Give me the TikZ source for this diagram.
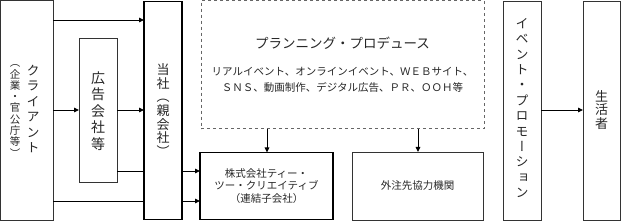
\documentclass[tikz,border=0pt]{standalone}
\usepackage{fontspec}
\newfontfamily\cjk{Noto Sans CJK JP}
\newfontfamily\cjkv[RawFeature=+vert]{Noto Sans CJK JP}
\usetikzlibrary{arrows.meta}
\begin{document}
\begin{tikzpicture}[x=1pt,y=-1pt,
  thinbox/.style={draw=black!80,line width=0.7pt,inner sep=0pt,outer sep=0pt},
  thickbox/.style={draw=black,line width=1.4pt,inner sep=0pt,outer sep=0pt},
  dashbox/.style={draw=black!60,dashed,line width=0.7pt,inner sep=0pt,outer sep=0pt},
  vtext/.style={font=\cjkv\fontsize{13}{15.5}\selectfont,align=center,inner sep=0pt,text=black!85},
  htext/.style={font=\cjk\fontsize{10.5}{12.5}\selectfont,align=center,inner sep=0pt,text=black!85},
  arr/.style={line width=0.9pt,-{Triangle[length=5pt,width=4.5pt]}},
  ln/.style={line width=0.9pt}]
\useasboundingbox (0,0) rectangle (621,221);
% boxes
\node[thinbox,minimum width=52.5pt,minimum height=219.5pt] (client) at (26.75,110.5) {};
\node[thinbox,minimum width=38pt,minimum height=144pt] (ad) at (98,110) {};
\node[thickbox,minimum width=38pt,minimum height=218pt] (tosha) at (163,110.5) {};
\node[dashbox,minimum width=283pt,minimum height=128pt] (plan) at (342.5,64.75) {};
\node[thickbox,minimum width=133pt,minimum height=67pt] (tc) at (266.5,186) {};
\node[thinbox,minimum width=131pt,minimum height=68pt] (gai) at (417.5,186) {};
\node[thinbox,minimum width=38pt,minimum height=219pt] (event) at (522,110.5) {};
\node[thinbox,minimum width=37pt,minimum height=219pt] (sei) at (601.5,110.5) {};
% texts
\node[vtext] (tclient) at (33,109) {ク\\ラ\\イ\\ア\\ン\\ト};
\node[vtext,font=\cjkv\fontsize{10.5}{11.3}\selectfont] (tclient2) at (15,111) {（\\企\\業\\・\\官\\公\\庁\\等\\）};
\node[vtext,font=\cjkv\fontsize{14}{16.4}\selectfont] (tad) at (98,111) {広\\告\\会\\社\\等};
\node[vtext,font=\cjkv\fontsize{13}{13.6}\selectfont] (ttosha) at (163,110) {当\\社\\（\\親\\会\\社\\）};
\node[vtext,font=\cjkv\fontsize{13}{15.4}\selectfont] (tevent) at (522,108) {イ\\ベ\\ン\\ト\\・\\プ\\ロ\\モ\\ー\\シ\\ョ\\ン};
\node[vtext,font=\cjkv\fontsize{13}{13.5}\selectfont] (tsei) at (601.5,110) {生\\活\\者};
\node[htext,font=\cjk\fontsize{13.5}{15}\selectfont] (tplan) at (342.5,43) {プランニング・プロデュース};
\node[htext,font=\cjk\fontsize{10.5}{16}\selectfont] (tplan2) at (342.5,80) {リアルイベント、オンラインイベント、ＷＥＢサイト、\\ＳＮＳ、動画制作、デジタル広告、ＰＲ、ＯＯＨ等};
\node[htext] (ttc) at (266.5,186) {株式会社ティー・\\ツー・クリエイティブ\\（連結子会社）};
\node[htext] (tgai) at (417.5,186) {外注先協力機関};
% connectors
\draw[arr] (client.east |- 0,20) -- (tosha.west |- 0,20);
\draw[arr] (client.east |- 0,110) -- (ad.west |- 0,110);
\draw[arr] (ad.east |- 0,110) -- (tosha.west |- 0,110);
\draw[ln] (ad.east |- 0,171) -- (tosha.west |- 0,171);
\draw[ln] (client.east |- 0,201) -- (tosha.west |- 0,201);
\draw[arr] (tosha.east |- 0,171) -- (tc.west |- 0,171);
\draw[arr] (tosha.east |- 0,201) -- (tc.west |- 0,201);
\draw[arr] (plan.south -| 267,0) -- (tc.north -| 267,0);
\draw[arr] (plan.south -| 418,0) -- (gai.north -| 418,0);
\draw[arr] (event.east |- 0,110) -- (sei.west |- 0,110);
\end{tikzpicture}
\end{document}
